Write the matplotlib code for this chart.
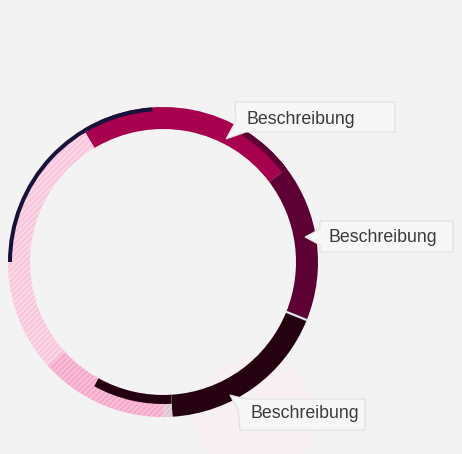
import numpy as np
import matplotlib.pyplot as plt
from matplotlib.patches import Wedge, Circle, Polygon

plt.rcParams['font.family'] = ['Liberation Sans', 'DejaVu Sans']
plt.rcParams['hatch.linewidth'] = 0.8

# Hauptring, im Uhrzeigersinn ab 329 Grad (Werte in Grad)
ring_names = ['Segment A', 'Segment B', 'Segment C', 'Segment D', 'Segment E', 'Segment F']
ring_values = [84, 59, 64.5, 3.5, 48, 101]
ring_start = 329

# schmale Zusatzbaender: Start (Grad) und Spanne (Grad)
band_names = ['Band 1', 'Band 2', 'Band 3']
band_start = [270, 32, 176.5]
band_span = [86, 21, 32.5]

labels = ['Beschreibung', 'Beschreibung', 'Beschreibung']

ring_colors = ['#a6004e', '#5d0034', '#250010', '#dcc6cf', '#f6a9ca', '#f9c6dc']
ring_hatch_colors = [None, None, None, '#eddde4', '#fbcde0', '#fde2ee']
band_colors = ['#16133a', '#5d0034', '#250010']
band_radii = [(155, 4), (155, 6), (142, 9)]

cx, cy = 163, 262
r_out, r_w = 155, 22
bg = '#f4f3f3'

fig = plt.figure(figsize=(4.62, 4.54), dpi=100)
fig.patch.set_facecolor(bg)
ax = fig.add_axes([0, 0, 1, 1])
ax.set_facecolor(bg)
ax.set_xlim(0, 462)
ax.set_ylim(454, 0)
ax.axis('off')

# blasser Fleck unten
ax.add_patch(Circle((255, 418), 60, facecolor='#f8f0f3', edgecolor='none', zorder=0))


def arc(a0, span, r, w, **kw):
    # a0 im Uhrzeigersinn von oben; y-Achse ist umgedreht
    return Wedge((cx, cy), r, a0 - 90, a0 + span - 90, width=w, **kw)


a = ring_start
for val, col, hcol in zip(ring_values, ring_colors, ring_hatch_colors):
    if hcol:
        p = arc(a, val, r_out, r_w, facecolor=col, edgecolor=hcol, linewidth=0,
                hatch='//////', zorder=2)
    else:
        p = arc(a, val, r_out, r_w, facecolor=col, edgecolor='none', zorder=2)
    ax.add_patch(p)
    a += val

for s, sp, col, (r, w) in zip(band_start, band_span, band_colors, band_radii):
    ax.add_patch(arc(s, sp, r, w, facecolor=col, edgecolor='none', zorder=3))

# heller Trennstrich zwischen B und C
t = np.deg2rad(ring_start + sum(ring_values[:2]) - 90)
ax.plot([cx + 132 * np.cos(t), cx + 156 * np.cos(t)],
        [cy + 132 * np.sin(t), cy + 156 * np.sin(t)],
        color='#dde4ec', lw=1.6, zorder=4, solid_capstyle='butt')

# Beschriftungen mit Zeiger
callouts = [
    [(235, 102), (395, 102), (395, 132), (246, 132), (226, 139), (236, 121)],
    [(320, 221), (453, 221), (453, 252), (320, 252), (320, 245), (305, 237), (320, 229)],
    [(230, 395), (246, 399), (365, 399), (365, 430), (240, 430), (238, 410)],
]
text_pos = [(247, 119), (328, 237), (250, 414)]
for poly, (tx, ty), lab in zip(callouts, text_pos, labels):
    ax.add_patch(Polygon(poly, closed=True, facecolor='#f7f7f7',
                         edgecolor='#e0e0e0', linewidth=0.8, zorder=5))
    ax.text(tx, ty, lab, fontsize=12.8, color='#3a3a3a', va='center',
            ha='left', zorder=6)

fig.savefig('out.png', dpi=100, facecolor=bg)
